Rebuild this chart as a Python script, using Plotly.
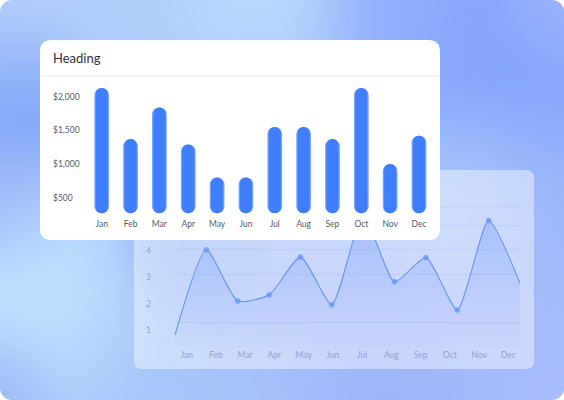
import base64
import struct
import zlib

import numpy as np
import plotly.graph_objects as go

# ---------------- data ----------------
MONTHS = ["Jan", "Feb", "Mar", "Apr", "May", "Jun", "Jul", "Aug", "Sep", "Oct", "Nov", "Dec"]
BAR_VALUES = [2130, 1370, 1840, 1290, 800, 800, 1550, 1550, 1370, 2130, 1000, 1420]
BAR_FLOOR = 270
BAR_TICKS = [500, 1000, 1500, 2000]
BAR_TICK_TEXT = ["$500", "$1,000", "$1,500", "$2,000"]
LINE_VALUES = [0.82, 4.04, 2.11, 2.34, 3.77, 1.97, 5.35, 2.84, 3.75, 1.77, 5.15, 2.78]
LINE_TICKS = [1, 2, 3, 4]
LINE_GRID = [1.28, 3.13, 4.04, 4.98, 5.70]
HEADING = "Heading"

# ---------------- geometry helpers ----------------
W, H = 564, 400
FONT = "Lato"


def fx(px):
    return px / W


def fy(py):
    return 1 - py / H


def axis_range(p_bottom, p_top, v_a, p_a, v_b, p_b):
    k = (v_b - v_a) / (p_b - p_a)
    return [v_a + (p_bottom - p_a) * k, v_a + (p_top - p_a) * k]


def rounded_path(x0, y0, x1, y1, r):
    X0, X1 = fx(x0), fx(x1)
    Y0, Y1 = fy(y0), fy(y1)
    rx, ry = r / W, r / H
    return (f"M{X0 + rx},{Y0} L{X1 - rx},{Y0} Q{X1},{Y0} {X1},{Y0 - ry} "
            f"L{X1},{Y1 + ry} Q{X1},{Y1} {X1 - rx},{Y1} L{X0 + rx},{Y1} "
            f"Q{X0},{Y1} {X0},{Y1 + ry} L{X0},{Y0 - ry} Q{X0},{Y0} {X0 + rx},{Y0} Z")


def hex_rgb(h):
    h = h.lstrip("#")
    return np.array([int(h[i:i + 2], 16) for i in (0, 2, 4)], dtype=float)


# ---------------- background mesh gradient (decoration) ----------------
def background_uri():
    yy, xx = np.mgrid[0:H, 0:W] + 0.5
    pts = [
        (0, 0, "#b8d2fb", 45), (150, 10, "#b0cdfb", 50), (250, 15, "#c0defd", 60),
        (400, 20, "#92b0fc", 50), (480, 60, "#82a2fc", 70), (560, 5, "#a4b8fb", 35),
        (0, 60, "#98b8f9", 35), (10, 115, "#7ca3f7", 40), (0, 190, "#a3bdf9", 40),
        (50, 300, "#bde0fe", 60), (0, 395, "#9db9f8", 35), (150, 392, "#a8c6fa", 50),
        (250, 392, "#aac5fb", 50), (380, 392, "#9fb5fb", 60), (560, 395, "#a8bcfb", 45),
        (560, 100, "#88a8fc", 50), (560, 200, "#9cb6fb", 50), (560, 300, "#a4bbfb", 50),
        (200, 260, "#94b4f7", 45), (300, 320, "#a2b8fa", 60), (470, 310, "#a6baf9", 60),
        (470, 190, "#b0ccfb", 50), (250, 140, "#a5c0fa", 80),
    ]
    base = hex_rgb("#a6c0fb")
    num = np.zeros((H, W, 3)) + 0.01 * base
    den = np.zeros((H, W)) + 0.01
    for x0, y0, c, s in pts:
        w = np.exp(-((xx - x0) ** 2 + (yy - y0) ** 2) / (2 * s * s))
        num += w[..., None] * hex_rgb(c)
        den += w
    rgb = num / den[..., None]
    r = 12.0
    cx = np.clip(xx, r, W - r)
    cy = np.clip(yy, r, H - r)
    d = np.sqrt((xx - cx) ** 2 + (yy - cy) ** 2)
    alpha = np.clip(r + 0.5 - d, 0, 1) * 255
    rgba = np.dstack([rgb, alpha]).round().clip(0, 255).astype(np.uint8)
    raw = b"".join(b"\x00" + rgba[i].tobytes() for i in range(H))

    def chunk(tag, data):
        return (struct.pack(">I", len(data)) + tag + data
                + struct.pack(">I", zlib.crc32(tag + data) & 0xFFFFFFFF))

    png = (b"\x89PNG\r\n\x1a\n"
           + chunk(b"IHDR", struct.pack(">IIBBBBB", W, H, 8, 6, 0, 0, 0))
           + chunk(b"IDAT", zlib.compress(raw, 9))
           + chunk(b"IEND", b""))
    return "data:image/png;base64," + base64.b64encode(png).decode()


fig = go.Figure()

# ---------------- line chart (back card) ----------------
idx = list(range(len(MONTHS)))
marker_sizes = [0] + [5] * (len(MONTHS) - 2) + [0]
fig.add_trace(go.Scatter(
    x=idx, y=LINE_VALUES, xaxis="x", yaxis="y", mode="lines+markers",
    line=dict(color="#6e9afb", width=1.2, shape="spline", smoothing=0.6),
    marker=dict(size=marker_sizes, color="#5f8ffc"),
    fill="tozeroy",
    fillgradient=dict(type="vertical",
                      colorscale=[[0, "rgba(110,150,250,0.0)"], [1, "rgba(80,130,250,0.30)"]]),
    hoverinfo="skip", showlegend=False,
))
# empty helper traces so the overlaid label / grid axes get drawn
fig.add_trace(go.Scatter(x=[None], y=[None], xaxis="x4", yaxis="y", mode="markers",
                         hoverinfo="skip", showlegend=False))
fig.add_trace(go.Scatter(x=[None], y=[None], xaxis="x", yaxis="y5", mode="markers",
                         hoverinfo="skip", showlegend=False))

# ---------------- white front card (decoration trace) ----------------
CARD = (40, 40, 440, 240)
cw, ch = CARD[2] - CARD[0], CARD[3] - CARD[1]
cr = 10
ang = np.linspace(0, np.pi / 2, 12)
cx_list, cy_list = [], []
for (ox, oy, a0) in [(cw - cr, ch - cr, 0), (cr, ch - cr, np.pi / 2),
                     (cr, cr, np.pi), (cw - cr, cr, 3 * np.pi / 2)]:
    cx_list += list(ox + cr * np.cos(a0 + ang))
    cy_list += list(oy + cr * np.sin(a0 + ang))
fig.add_trace(go.Scatter(
    x=cx_list + [cx_list[0]], y=cy_list + [cy_list[0]], xaxis="x2", yaxis="y2",
    mode="lines", line=dict(width=0), fill="toself", fillcolor="#ffffff",
    hoverinfo="skip", showlegend=False,
))

# ---------------- bar chart (front card) ----------------
BAR_DOMAIN_X = (87.3, 433.4)          # px
BAR_DOMAIN_Y = (216, 82)              # px (bottom, top)
bar_y_range = axis_range(BAR_DOMAIN_Y[0], BAR_DOMAIN_Y[1], 500, 197.7, 2000, 96.7)

# floating bars (with a base) get all four corners rounded -> pill shapes
for width, color in [(0.51, "#74a3ff"), (0.42, "#3e7eff")]:
    fig.add_trace(go.Bar(
        x=MONTHS, y=[v - BAR_FLOOR for v in BAR_VALUES], base=BAR_FLOOR,
        xaxis="x3", yaxis="y3", width=width,
        marker=dict(color=color, line=dict(width=0), cornerradius="50%"),
        hoverinfo="skip", showlegend=False,
    ))

line_y_range = axis_range(348, 200, 1, 330.3, 4, 251)

axis_off = dict(visible=False, showgrid=False, zeroline=False, fixedrange=True)
TICK_DARK = dict(family=FONT, size=8.5, color="#555b6e")
TICK_LIGHT = dict(family=FONT, size=8.5, color="#94a3d4")

fig.update_layout(
    width=W, height=H,
    margin=dict(l=0, r=0, t=0, b=0, pad=0),
    paper_bgcolor="#ffffff", plot_bgcolor="rgba(0,0,0,0)",
    barmode="overlay", hovermode=False, showlegend=False,
    font=dict(family=FONT, size=9, color="#555b6e"),
    # line chart axes
    xaxis=dict(domain=[fx(175), fx(520)], range=[0, len(MONTHS) - 1], anchor="y", **axis_off),
    xaxis4=dict(overlaying="x", anchor="y", range=[-0.4, len(MONTHS) - 0.6],
                tickmode="array", tickvals=idx, ticktext=MONTHS,
                showgrid=False, zeroline=False, showline=False, ticks="",
                ticklabelstandoff=0, tickfont=TICK_LIGHT),
    yaxis=dict(domain=[fy(348), fy(200)], range=line_y_range, anchor="free",
               position=fx(151), tickmode="array", tickvals=LINE_TICKS,
               showgrid=False, zeroline=False, showline=False, ticks="",
               tickfont=TICK_LIGHT),
    yaxis5=dict(overlaying="y", anchor="x", range=line_y_range, tickmode="array",
                tickvals=LINE_GRID, showticklabels=False, showgrid=True,
                gridcolor="rgba(130,150,230,0.16)", gridwidth=1,
                zeroline=False, showline=False, ticks=""),
    # card axes
    xaxis2=dict(domain=[fx(CARD[0]), fx(CARD[2])], range=[0, cw], anchor="y2", **axis_off),
    yaxis2=dict(domain=[fy(CARD[3]), fy(CARD[1])], range=[0, ch], anchor="x2", **axis_off),
    # bar chart axes
    xaxis3=dict(domain=[fx(BAR_DOMAIN_X[0]), fx(BAR_DOMAIN_X[1])],
                range=[-0.5, len(MONTHS) - 0.5], anchor="y3",
                type="category", showgrid=False, zeroline=False, showline=False, ticks="",
                ticklabelstandoff=1, tickfont=TICK_DARK),
    yaxis3=dict(domain=[fy(BAR_DOMAIN_Y[0]), fy(BAR_DOMAIN_Y[1])], range=bar_y_range,
                anchor="free", position=fx(49),
                ticklabelposition="inside", tickmode="array", tickvals=BAR_TICKS,
                ticktext=BAR_TICK_TEXT, showgrid=False, zeroline=False, showline=False,
                ticks="", tickfont=TICK_DARK),
    images=[dict(source=background_uri(), xref="paper", yref="paper", x=0, y=1,
                 sizex=1, sizey=1, xanchor="left", yanchor="top", sizing="stretch",
                 layer="below")],
    shapes=[
        dict(type="path", path=rounded_path(134, 170, 534, 369, 8), xref="paper", yref="paper",
             fillcolor="rgba(255,255,255,0.42)", line=dict(width=0), layer="below"),
        dict(type="line", xref="paper", yref="paper", x0=fx(40), x1=fx(440),
             y0=fy(76), y1=fy(76), line=dict(color="#ebecf1", width=1), layer="above"),
    ],
    annotations=[dict(text=HEADING, xref="paper", yref="paper", x=fx(51), y=fy(58),
                      xanchor="left", yanchor="middle", showarrow=False,
                      font=dict(family=FONT, size=13, color="#30333f"))],
)

fig.write_html("out.html", config={"displayModeBar": False, "staticPlot": True},
               post_script="document.body.style.margin='0';document.body.style.overflow='hidden';")
